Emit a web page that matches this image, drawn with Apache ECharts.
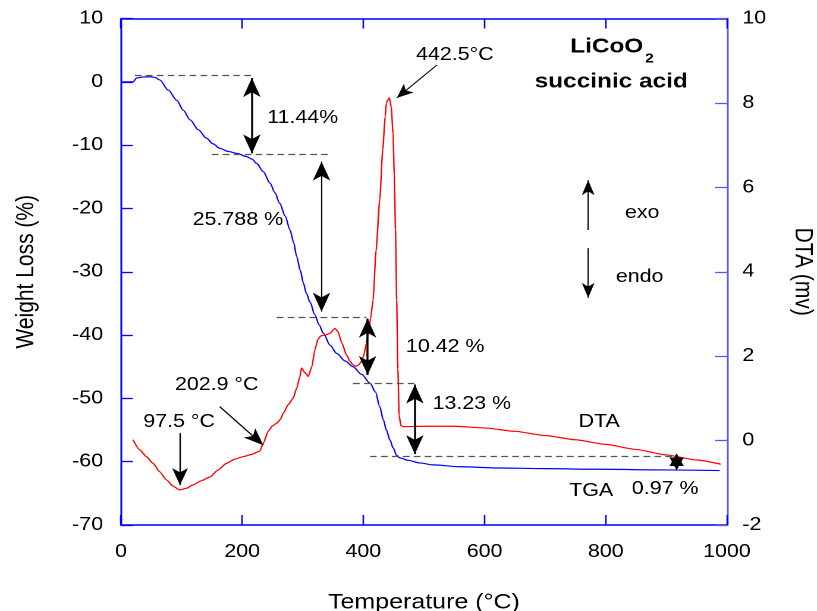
<!DOCTYPE html>
<html>
<head>
<meta charset="utf-8">
<script src="https://cdn.jsdelivr.net/npm/echarts@6/dist/echarts.min.js"></script>
<style>
  html, body { margin: 0; padding: 0; background: #fff; overflow: hidden; }
  /* the source figure is stretched sideways, so the chart is drawn narrower and widened */
  #main { width: 687px; height: 611px; transform: scaleX(1.1892); transform-origin: 0 0; }
</style>
</head>
<body>
<div id="main"></div>
<script>
// TGA curve: temperature (°C) / weight loss (%)
var tgaTemp = [0, 20, 26, 35, 48, 56, 64, 78, 92, 103, 114, 128, 141, 152, 163, 177, 191, 207, 216, 224,
  235, 246, 254, 262, 271, 279, 285, 290, 296, 301, 306, 312, 320, 327, 334, 345, 356, 370, 383, 397,
  411, 420, 427, 433, 438, 444, 449, 455, 460, 475, 493, 515, 560, 625, 700, 790, 900, 988];
var tgaWeight = [0, 0, 0.6, 0.75, 0.8, 0.7, 0.3, -1.3, -2.9, -4.5, -6.0, -7.6, -8.9, -9.8, -10.5, -11.0, -11.3, -11.8, -12.2, -12.9,
  -14.2, -16.0, -17.5, -19.2, -21.2, -23.4, -25.4, -27.6, -29.8, -31.8, -33.4, -34.8, -36.8, -38.4, -39.7, -41.6, -42.9, -44.1, -45.0, -46.2,
  -47.6, -49.0, -51.3, -53.4, -55.0, -56.6, -57.8, -59.0, -59.4, -59.8, -60.2, -60.5, -60.8, -61.0, -61.1, -61.2, -61.3, -61.4];

// DTA curve: temperature (°C) / signal (mV)
var dtaTemp = [20, 31, 42, 53, 64, 75, 86, 97, 108, 119, 133, 147, 160, 174, 188, 202, 215, 229, 235, 243,
  250, 257, 263, 268, 276, 284, 290, 295, 298, 303, 309, 315, 320, 325, 330, 337, 345, 353, 358, 365,
  372, 378, 383, 388, 392, 397, 400, 405, 408, 412, 416, 421, 427, 432, 436, 438, 441, 443, 446, 449,
  451, 453, 455, 457, 459, 462, 466, 500, 550, 600, 650, 700, 750, 800, 850, 900, 950, 990];
var dtaSignal = [0.02, -0.22, -0.38, -0.54, -0.74, -0.93, -1.08, -1.17, -1.13, -1.05, -0.95, -0.86, -0.70, -0.54, -0.44, -0.38, -0.33, -0.25, -0.06, 0.22,
  0.35, 0.41, 0.5, 0.65, 0.85, 1.0, 1.24, 1.5, 1.72, 1.62, 1.52, 1.75, 2.15, 2.4, 2.48, 2.5, 2.54, 2.66, 2.58, 2.3,
  2.03, 1.88, 1.79, 1.76, 1.79, 1.88, 1.99, 2.3, 2.54, 2.9, 3.33, 4.5, 5.7, 6.9, 7.67, 8.0, 8.08, 8.12, 7.9, 7.28,
  6.3, 5.0, 3.33, 1.7, 0.6, 0.35, 0.33, 0.34, 0.34, 0.3, 0.22, 0.12, 0.02, -0.09, -0.21, -0.34, -0.46, -0.56];

// axis ranges [min, max, interval]
var tempRange = [0, 1000, 200];
var weightRange = [-70, 10, 10];
var dtaRange = [-2, 10, 2];

// weight-loss steps: dashed levels [from T, to T, weight]
var stepLevels = [[23, 221, 1.0], [150, 348, -11.45], [257, 405, -37.2], [383, 490, -47.6], [411, 915, -59.1]];
// double arrows between levels [T, upper weight, lower weight]
var stepArrows = [[216, 0.6, -11.3], [331, -12.6, -36.3], [407, -37.4, -46.3], [485, -47.8, -58.8]];
// single arrows on the weight scale [fromT, fromW, toT, toW]
var peakArrows = [[97.5, -55.5, 97.5, -63.7], [163, -51.3, 235, -57.4]];
// single arrows on the DTA scale [fromT, fromS, toT, toS]
var dtaArrows = [[521.5, 8.9, 455.4, 8.12], [771, 4.99, 771, 6.17], [771, 4.56, 771, 3.38]];
// end point marker (weight scale)
var endMark = [917, -60.0];
// text notes [text, T, weight]
var notes = [
  ['11.44%', 300, -5.7], ['25.788 %', 193, -21.8], ['10.42 %', 535, -41.9], ['13.23 %', 579, -50.9],
  ['DTA', 789, -53.7], ['TGA', 776, -64.6], ['0.97 %', 898, -64.3],
  ['97.5 °C', 96, -53.7], ['202.9 °C', 158, -47.9], ['442.5°C', 551, 4.2],
  ['exo', 860, -20.7], ['endo', 856, -30.8]
];

var FONT = 'Liberation Sans, Arial, sans-serif';
var BLUE = '#0000ff';
var BLUE2 = '#5a5af0';

function zip(a, b) {
  return a.map(function (v, i) { return [v, b[i]]; });
}

var lines = [];
stepLevels.forEach(function (d) {
  lines.push([
    { coord: [d[0], d[2]], symbol: 'none', lineStyle: { type: [5.6, 3.6], color: '#555', width: 1.3 } },
    { coord: [d[1], d[2]], symbol: 'none' }
  ]);
});
stepArrows.forEach(function (d, i) {
  lines.push([
    { coord: [d[0], d[1]], symbol: 'arrow', symbolSize: [11, 19], lineStyle: { type: 'solid', color: '#000', width: i == 1 ? 1.1 : 1.7 } },
    { coord: [d[0], d[2]], symbol: 'arrow', symbolSize: [11, 19] }
  ]);
});
peakArrows.forEach(function (d) {
  lines.push([
    { coord: [d[0], d[1]], symbol: 'none', lineStyle: { type: 'solid', color: '#000', width: 1.2 } },
    { coord: [d[2], d[3]], symbol: 'arrow', symbolSize: [10, 17] }
  ]);
});

var dtaLines = dtaArrows.map(function (d, i) {
  return [
    { coord: [d[0], d[1]], symbol: 'none', lineStyle: { type: 'solid', color: '#000', width: 1 } },
    { coord: [d[2], d[3]], symbol: 'arrow', symbolSize: i == 0 ? [9, 14] : [8, 15] }
  ];
});

var axisCommon = function (color) {
  return {
    axisLine: { show: true, onZero: false, lineStyle: { color: color, width: 1.5 } },
    axisTick: { show: true, inside: true, length: 10, lineStyle: { color: color, width: 1.3 } },
    splitLine: { show: false }
  };
};

var option = {
  animation: false,
  backgroundColor: '#fff',
  textStyle: { fontFamily: FONT },
  grid: { left: 101.7, right: 75.7, top: 18.5, bottom: 86, outerBoundsMode: 'none', containLabel: false },
  xAxis: [
    Object.assign({
      type: 'value', position: 'bottom',
      min: tempRange[0], max: tempRange[1], interval: tempRange[2],
      axisLabel: { color: '#000', fontSize: 18, fontFamily: FONT, margin: 18, formatter: function (v) { return String(v); } },
      name: 'Temperature (°C)', nameLocation: 'middle', nameGap: 67,
      nameTextStyle: { color: '#000', fontSize: 21, fontFamily: FONT }
    }, axisCommon(BLUE)),
    Object.assign({
      type: 'value', position: 'top',
      min: tempRange[0], max: tempRange[1], interval: tempRange[2],
      axisLabel: { show: false }
    }, axisCommon(BLUE))
  ],
  yAxis: [
    Object.assign({
      type: 'value', position: 'left',
      min: weightRange[0], max: weightRange[1], interval: weightRange[2],
      axisLabel: { color: '#000', fontSize: 18, fontFamily: FONT, margin: 15 },
      name: 'Weight Loss (%)', nameLocation: 'middle', nameGap: 69,
      nameTextStyle: { color: '#000', fontSize: 21, fontFamily: FONT }
    }, axisCommon(BLUE)),
    Object.assign({
      type: 'value', position: 'right',
      min: dtaRange[0], max: dtaRange[1], interval: dtaRange[2],
      axisLabel: { color: '#000', fontSize: 18, fontFamily: FONT, margin: 13 },
      name: 'DTA (mv)', nameLocation: 'middle', nameGap: 53, nameRotate: -90,
      nameTextStyle: { color: '#000', fontSize: 21, fontFamily: FONT }
    }, axisCommon(BLUE2))
  ],
  series: [
    {
      name: 'TGA', type: 'line', xAxisIndex: 0, yAxisIndex: 0,
      data: zip(tgaTemp, tgaWeight),
      showSymbol: false, smooth: 0.3, smoothMonotone: 'x',
      lineStyle: { color: BLUE, width: 1.2 },
      markLine: { silent: true, animation: false, label: { show: false }, data: lines },
      markPoint: {
        silent: true, animation: false,
        symbol: 'path://M0,-10 L2.9,-5 L8.7,-5 L5.8,0 L8.7,5 L2.9,5 L0,10 L-2.9,5 L-8.7,5 L-5.8,0 L-8.7,-5 L-2.9,-5 Z',
        symbolSize: [12, 17],
        itemStyle: { color: '#000' },
        label: { show: false },
        data: [{ coord: endMark }]
      }
    },
    {
      name: 'DTA', type: 'line', xAxisIndex: 0, yAxisIndex: 1,
      data: zip(dtaTemp, dtaSignal),
      showSymbol: false, smooth: 0.2, smoothMonotone: 'x',
      lineStyle: { color: '#ff0000', width: 1.2 },
      markLine: { silent: true, animation: false, label: { show: false }, data: dtaLines }
    }
  ]
};

var chart = echarts.init(document.getElementById('main'), null, { devicePixelRatio: 2 });
chart.setOption(option);

var texts = notes.map(function (n) {
  var p = chart.convertToPixel({ xAxisIndex: 0, yAxisIndex: 0 }, [n[1], n[2]]);
  return {
    type: 'text', x: p[0], y: p[1], silent: true,
    style: { text: n[0], fill: '#000', fontSize: 18, fontFamily: FONT, align: 'center', verticalAlign: 'middle' }
  };
});
texts.push(
  { type: 'text', x: 541, y: 47, silent: true,
    style: { text: 'LiCoO', fill: '#000', fontSize: 20.5, fontWeight: 'bold', fontFamily: FONT, align: 'right', verticalAlign: 'middle' } },
  { type: 'text', x: 542.5, y: 59, silent: true,
    style: { text: '2', fill: '#000', fontSize: 13, fontWeight: 'bold', fontFamily: FONT, align: 'left', verticalAlign: 'middle' } },
  { type: 'text', x: 514, y: 82, silent: true,
    style: { text: 'succinic acid', fill: '#000', fontSize: 20.5, fontWeight: 'bold', fontFamily: FONT, align: 'center', verticalAlign: 'middle' } }
);
chart.setOption({ graphic: texts });
</script>
</body>
</html>
